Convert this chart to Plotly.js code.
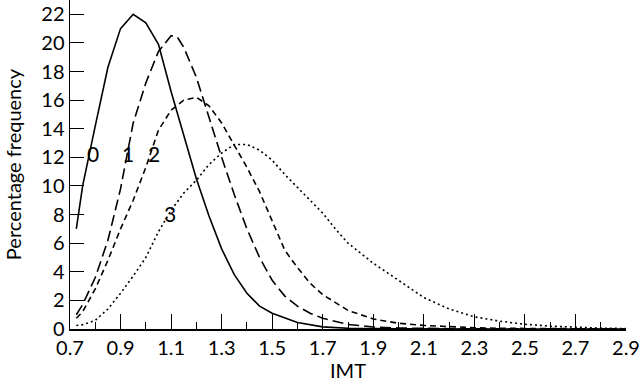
<!DOCTYPE html>
<html>
<head>
<meta charset="utf-8">
<script src="https://cdn.plot.ly/plotly-3.0.1.min.js"></script>
<style>
  html, body { margin: 0; padding: 0; background: #fff; }
  #chart { width: 640px; height: 382px; }
</style>
</head>
<body>
<div id="chart"></div>
<script>
// IMT grid points for each curve
var imt0 = [0.725, 0.75, 0.8, 0.85, 0.9, 0.95, 1.0, 1.05, 1.1, 1.15, 1.2, 1.25, 1.3, 1.35, 1.4, 1.45, 1.5, 1.6, 1.7, 1.8, 1.9, 2.0, 2.9];
var freq0 = [7.0, 10.0, 14.2, 18.3, 21.0, 22.0, 21.4, 19.9, 16.6, 13.5, 10.5, 7.9, 5.6, 3.8, 2.5, 1.6, 1.1, 0.45, 0.15, 0.05, 0.02, 0.01, 0];

var imt1 = [0.725, 0.75, 0.8, 0.85, 0.9, 0.95, 1.0, 1.05, 1.1, 1.125, 1.15, 1.2, 1.25, 1.3, 1.35, 1.4, 1.45, 1.5, 1.55, 1.6, 1.65, 1.7, 1.8, 1.9, 2.0, 2.2, 2.9];
var freq1 = [1.0, 1.7, 3.6, 6.2, 9.8, 14.4, 17.2, 19.4, 20.5, 20.4, 19.7, 17.6, 14.8, 12.0, 9.4, 7.0, 5.0, 3.4, 2.3, 1.6, 1.1, 0.75, 0.32, 0.14, 0.07, 0.02, 0];

var imt2 = [0.725, 0.75, 0.8, 0.85, 0.9, 0.95, 1.0, 1.05, 1.1, 1.15, 1.2, 1.25, 1.3, 1.35, 1.4, 1.45, 1.5, 1.55, 1.6, 1.65, 1.7, 1.8, 1.9, 2.0, 2.1, 2.2, 2.3, 2.4, 2.5, 2.9];
var freq2 = [0.75, 1.2, 2.8, 4.8, 7.0, 9.0, 11.3, 13.9, 15.3, 16.0, 16.2, 15.6, 14.4, 12.9, 11.3, 9.6, 7.5, 5.5, 4.3, 3.2, 2.4, 1.3, 0.7, 0.4, 0.25, 0.16, 0.09, 0.05, 0.03, 0];

var imt3 = [0.725, 0.75, 0.8, 0.85, 0.9, 0.95, 1.0, 1.05, 1.1, 1.15, 1.2, 1.25, 1.3, 1.35, 1.4, 1.45, 1.5, 1.55, 1.6, 1.65, 1.7, 1.75, 1.8, 1.9, 2.0, 2.1, 2.2, 2.3, 2.4, 2.5, 2.6, 2.7, 2.8, 2.9];
var freq3 = [0.25, 0.3, 0.6, 1.4, 2.5, 3.7, 5.0, 6.8, 8.3, 9.5, 10.4, 11.5, 12.3, 12.9, 12.9, 12.5, 11.8, 10.8, 9.9, 9.0, 8.1, 7.0, 6.0, 4.6, 3.4, 2.2, 1.4, 0.85, 0.55, 0.33, 0.2, 0.12, 0.06, 0.03];

// curve labels
var labelText = ["0", "1", "2", "3"];
var labelX = [0.79, 0.93, 1.032, 1.096];
var labelY = [12.3, 12.3, 12.3, 8.1];

var fontFam = "Lato, 'DejaVu Sans', sans-serif";

var data = [
  {x: imt0, y: freq0, type: "scatter", mode: "lines", line: {color: "#000", width: 1.6}},
  {x: imt1, y: freq1, type: "scatter", mode: "lines", line: {color: "#000", width: 1.6, dash: "11px,5px"}},
  {x: imt2, y: freq2, type: "scatter", mode: "lines", line: {color: "#000", width: 1.6, dash: "6px,4px"}},
  {x: imt3, y: freq3, type: "scatter", mode: "lines", line: {color: "#000", width: 1.6, dash: "2px,3px"}}
];

var annotations = labelText.map(function (t, i) {
  return {x: labelX[i], y: labelY[i], text: t, showarrow: false,
          font: {family: fontFam, size: 21, color: "#000"}};
});

var layout = {
  width: 640,
  height: 382,
  margin: {l: 70, r: 14, t: 0, b: 53},
  paper_bgcolor: "#fff",
  plot_bgcolor: "#fff",
  showlegend: false,
  font: {family: fontFam, size: 20, color: "#000"},
  xaxis: {
    title: {text: "IMT", standoff: 4, font: {size: 20}},
    range: [0.7, 2.9],
    tickvals: [0.7, 0.9, 1.1, 1.3, 1.5, 1.7, 1.9, 2.1, 2.3, 2.5, 2.7, 2.9],
    ticktext: ["0.7", "0.9", "1.1", "1.3", "1.5", "1.7", "1.9", "2.1", "2.3", "2.5", "2.7", "2.9"],
    tickfont: {size: 20},
    ticks: "inside",
    ticklen: 15,
    tickwidth: 1,
    tickcolor: "#000",
    minor: {tickvals: [0.8, 1.0, 1.2, 1.4, 1.6, 1.8, 2.0, 2.2, 2.4, 2.6, 2.8], ticks: "inside", ticklen: 7, tickcolor: "#000", tickwidth: 1},
    showline: true,
    linecolor: "#000",
    linewidth: 1.5,
    showgrid: false,
    zeroline: false
  },
  yaxis: {
    title: {text: "Percentage frequency", standoff: 14, font: {size: 20}},
    range: [0, 23],
    tickvals: [0, 2, 4, 6, 8, 10, 12, 14, 16, 18, 20, 22],
    tickfont: {size: 20},
    ticks: "inside",
    ticklen: 14,
    tickwidth: 1,
    tickcolor: "#000",
    showline: true,
    linecolor: "#000",
    linewidth: 1.5,
    showgrid: false,
    zeroline: false
  },
  annotations: annotations
};

Plotly.newPlot("chart", data, layout, {displayModeBar: false, staticPlot: true});
</script>
</body>
</html>
